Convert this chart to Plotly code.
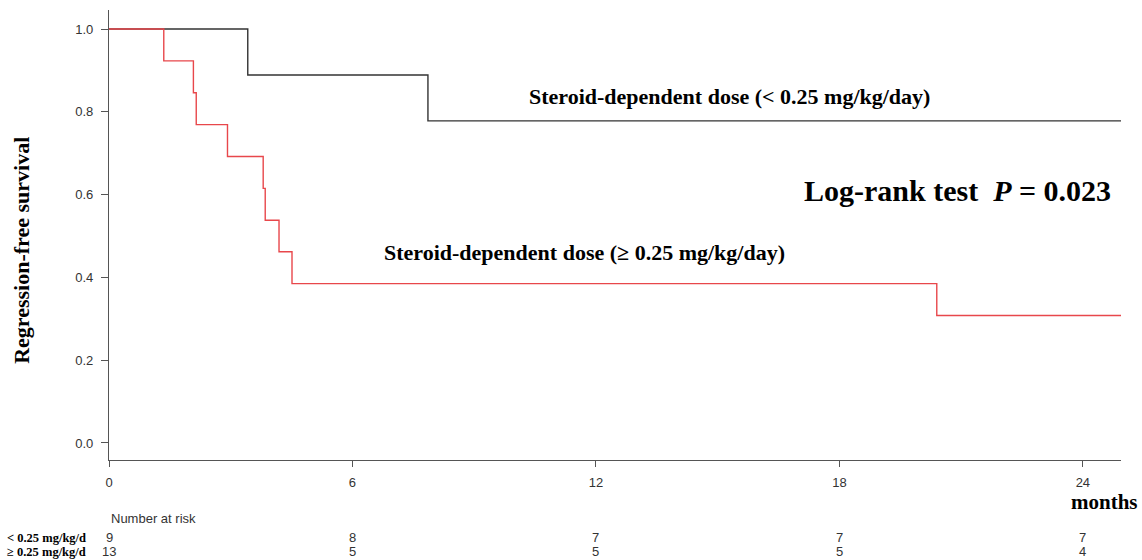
import plotly.graph_objects as go

# Kaplan-Meier step data (months, survival)
low_time = [0, 3.42, 7.86, 24.94]
low_surv = [1.0, 0.889, 0.778, 0.778]

high_time = [0, 1.35, 2.08, 2.15, 2.92, 3.80, 3.85, 4.19, 4.51, 20.4, 24.94]
high_surv = [1.0, 0.923, 0.846, 0.769, 0.692, 0.615, 0.538, 0.462, 0.385, 0.308, 0.308]

x_ticks = [0, 6, 12, 18, 24]
y_ticks = [0.0, 0.2, 0.4, 0.6, 0.8, 1.0]
y_tick_labels = ["0.0", "0.2", "0.4", "0.6", "0.8", "1.0"]

risk_low = [9, 8, 7, 7, 7]
risk_high = [13, 5, 5, 5, 4]
row_labels = ["< 0.25 mg/kg/d", "≥ 0.25 mg/kg/d"]

SERIF = "Liberation Serif"
SANS = "Liberation Sans"

fig = go.Figure()
fig.add_trace(go.Scatter(x=low_time, y=low_surv, mode="lines", line_shape="hv",
                         line=dict(color="#333333", width=1.4), showlegend=False))
fig.add_trace(go.Scatter(x=high_time, y=high_surv, mode="lines", line_shape="hv",
                         line=dict(color="#e8474b", width=1.4), showlegend=False))

fig.update_layout(
    width=1142, height=560,
    margin=dict(l=109, r=21, t=10, b=100),
    plot_bgcolor="white", paper_bgcolor="white",
    xaxis=dict(range=[0, 24.94], tickvals=x_ticks, ticktext=[str(v) for v in x_ticks],
               showgrid=False, zeroline=False, showline=True, linecolor="#555555", linewidth=1.2,
               ticks="outside", ticklen=6, tickcolor="#555555", ticklabelstandoff=4,
               tickfont=dict(family=SANS, size=13, color="#333333")),
    yaxis=dict(range=[-0.0411, 1.0459], tickvals=y_ticks, ticktext=y_tick_labels,
               showgrid=False, zeroline=False, showline=True, linecolor="#555555", linewidth=1.2,
               ticks="outside", ticklen=7, tickcolor="#555555", ticklabelstandoff=5,
               tickfont=dict(family=SANS, size=13, color="#333333")),
)

ann = []
ann.append(dict(x=15.3, y=0.836, xref="x", yref="y", showarrow=False,
                xanchor="center", yanchor="middle",
                text="<b>Steroid-dependent dose (< 0.25 mg/kg/day)</b>",
                font=dict(family=SERIF, size=22, color="black")))
ann.append(dict(x=11.73, y=0.459, xref="x", yref="y", showarrow=False,
                xanchor="center", yanchor="middle",
                text="<b>Steroid-dependent dose (≥ 0.25 mg/kg/day)</b>",
                font=dict(family=SERIF, size=22, color="black")))
ann.append(dict(x=20.92, y=0.611, xref="x", yref="y", showarrow=False,
                xanchor="center", yanchor="middle",
                text="<b>Log-rank test  <i>P</i> = 0.023</b>",
                font=dict(family=SERIF, size=30, color="black")))
ann.append(dict(x=-0.086, y=0.467, xref="paper", yref="paper", showarrow=False, textangle=-90,
                xanchor="center", yanchor="middle",
                text="<b>Regression-free survival</b>",
                font=dict(family=SERIF, size=22, color="black")))
ann.append(dict(x=1.019, y=(460 - 502) / 450, xref="paper", yref="paper", showarrow=False,
                xanchor="right", yanchor="middle", text="<b>months</b>",
                font=dict(family=SERIF, size=21, color="black")))
ann.append(dict(x=0, y=(460 - 518) / 450, xref="x", yref="paper", showarrow=False,
                xanchor="left", yanchor="middle", text="Number at risk",
                font=dict(family=SANS, size=13, color="#333333")))
row_y = [(460 - 537.5) / 450, (460 - 551.5) / 450]
for lab, yy in zip(row_labels, row_y):
    ann.append(dict(x=(5 - 109) / 1012, y=yy, xref="paper", yref="paper", showarrow=False,
                    xanchor="left", yanchor="middle", text="<b>" + lab + "</b>",
                    font=dict(family=SERIF, size=12.5, color="black")))
for xs, vals, yy in [(x_ticks, risk_low, row_y[0]), (x_ticks, risk_high, row_y[1])]:
    for xv, v in zip(xs, vals):
        ann.append(dict(x=xv, y=yy, xref="x", yref="paper", showarrow=False,
                        xanchor="center", yanchor="middle",
                        text=str(v), font=dict(family=SANS, size=13, color="#333333")))
fig.update_layout(annotations=ann)

fig.write_html("out.html")
